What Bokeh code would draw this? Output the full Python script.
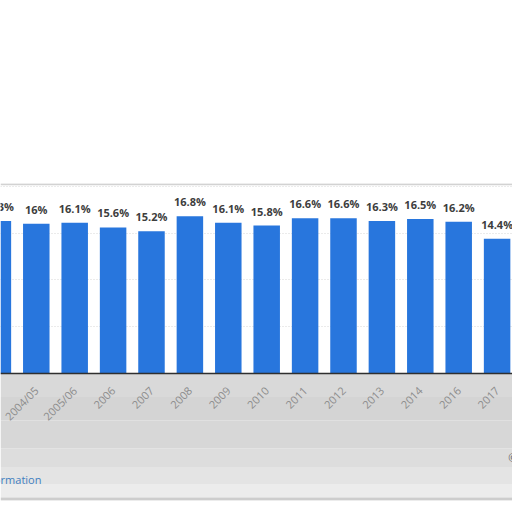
import math
from bokeh.plotting import figure
from bokeh.models import Range1d, FixedTicker, BoxAnnotation, Span, Label, ColumnDataSource
from bokeh.core.properties import value
from bokeh.embed import file_html
from bokeh.resources import INLINE

# --- data ---
categories = ["2003/04", "2004/05", "2005/06", "2006", "2007", "2008", "2009",
              "2010", "2011", "2012", "2013", "2014", "2016", "2017"]
shares = [16.3, 16.0, 16.1, 15.6, 15.2, 16.8, 16.1, 15.8, 16.6, 16.6, 16.3, 16.5, 16.2, 14.4]
value_labels = ["16.3%", "16%", "16.1%", "15.6%", "15.2%", "16.8%", "16.1%", "15.8%",
                "16.6%", "16.6%", "16.3%", "16.5%", "16.2%", "14.4%"]
grid_ticks = [5, 10, 15, 20]

idx = list(range(len(categories)))
src = ColumnDataSource(dict(x=idx, top=shares, label=value_labels))

p = figure(width=512, height=504, output_backend="svg", toolbar_location=None,
           x_range=Range1d(0.068, 13.401), y_range=Range1d(-13.57, 20.3))
p.min_border_left = 0
p.min_border_right = 0
p.min_border_top = 183
p.min_border_bottom = 4
p.outline_line_color = None
p.background_fill_color = "white"
p.border_fill_color = "white"

# grey blurred area beneath the axis
bands = [(0, -2.5, "#d9d9d9"), (-2.5, -5.02, "#d4d4d4"), (-5.02, -8.0, "#d7d7d7"),
         (-8.0, -10.0, "#dddddd"), (-10.0, -11.8, "#e4e4e4"),
         (-11.8, -13.25, "#ececec"), (-13.25, -13.6, "#cdcdcd")]
for top, bottom, col in bands:
    p.add_layout(BoxAnnotation(top=top, bottom=bottom, fill_color=col, fill_alpha=1.0,
                               line_color=None, level="underlay"))

# top border of the box
p.add_layout(Span(location=20.22, dimension="width", line_color="#d2d2d2", line_width=2))

p.vbar(x="x", top="top", bottom=0, width=0.69, source=src, fill_color="#2876dd",
       line_color=None)
p.text(x="x", y="top", text="label", source=src, text_align="center",
       text_baseline="bottom", y_offset=-7, text_font=value("Open Sans"),
       text_font_style="bold", text_font_size="11px", text_color="#3d3d3d")

# axes
p.yaxis.visible = False
p.ygrid.ticker = FixedTicker(ticks=grid_ticks)
p.ygrid.grid_line_color = "#d6d6d6"
p.ygrid.grid_line_dash = "1 2"
p.xgrid.grid_line_color = None

xa = p.xaxis[0]
xa.fixed_location = 0
xa.ticker = FixedTicker(ticks=idx)
xa.major_label_overrides = {i: c for i, c in zip(idx, categories)}
xa.major_label_orientation = math.pi / 4
xa.major_label_text_font = "Open Sans"
xa.major_label_text_font_size = "11px"
xa.major_label_text_color = "#8c8c8c"
xa.major_tick_line_color = None
xa.minor_tick_line_color = None
xa.major_tick_out = 0
xa.major_tick_in = 0
xa.major_label_standoff = 15
xa.axis_line_color = "#2f2f2f"
xa.axis_line_width = 1.5

p.add_layout(Label(x=1.135, y=-11.32, text="Additional Information", text_align="right",
                   text_baseline="middle", text_font="Open Sans", text_font_size="11px",
                   text_color="#3f7fc0"))
p.add_layout(Label(x=13.29, y=-8.97, text="© Statista", text_align="left",
                   text_baseline="middle", text_font="Open Sans", text_font_size="11px",
                   text_color="#666666"))

open("out.html", "w").write(file_html(p, INLINE))
